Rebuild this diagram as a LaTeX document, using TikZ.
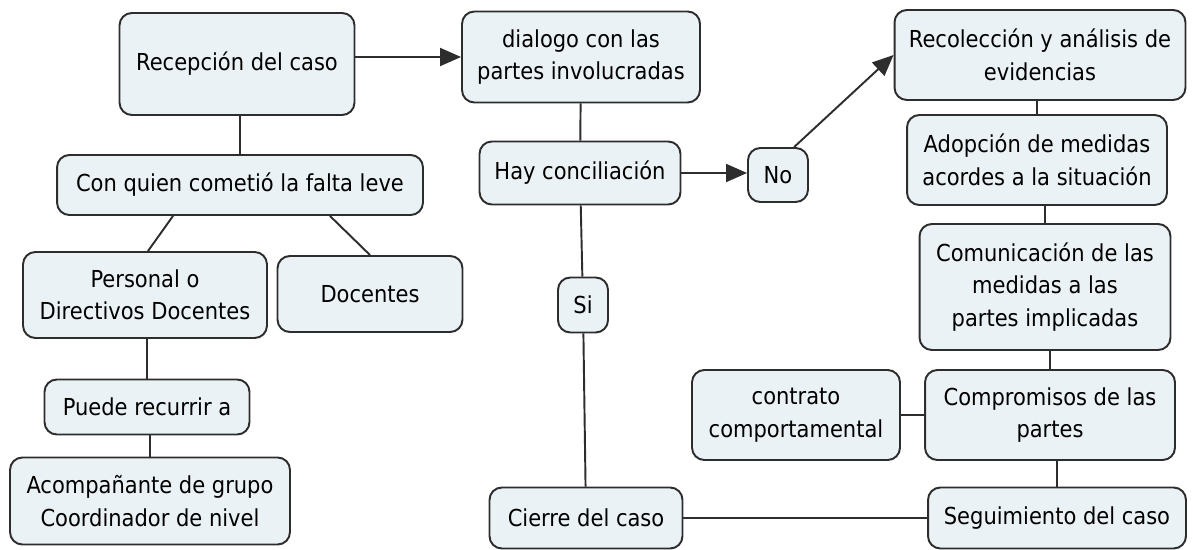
\documentclass[tikz,border=0pt]{standalone}
\usepackage{fontspec}
\setmainfont{DejaVu Sans Condensed}
\usetikzlibrary{arrows.meta}

\definecolor{boxfill}{RGB}{235,242,245}
\definecolor{boxline}{RGB}{45,45,45}

\tikzset{
  concepto/.style={draw=boxline, fill=boxfill, line width=1.1pt, rounded corners=7pt,
    align=center, inner sep=0pt, font=\fontsize{13.3}{18.5}\selectfont},
  enlace/.style={draw=boxline, line width=1.1pt},
  flecha/.style={enlace, -{Triangle[length=0.42cm,width=0.36cm]}}
}

\begin{document}
\begin{tikzpicture}[x=0.02cm, y=-0.02cm]
    \useasboundingbox (0,0) rectangle (1193,550);

    % Left branch
    \node[concepto, minimum width=4.7cm, minimum height=2.04cm] (recepcion) at (237,64) {Recepción del caso};
    \node[concepto, minimum width=7.32cm, minimum height=1.2cm] (quien) at (240,185) {Con quien cometió la falta leve};
    \node[concepto, minimum width=4.88cm, minimum height=1.72cm] (personal) at (145,295) {Personal o\\Directivos Docentes};
    \node[concepto, minimum width=3.7cm, minimum height=1.52cm] (docentes) at (370,294) {Docentes};
    \node[concepto, minimum width=4.1cm, minimum height=1.1cm] (recurrir) at (147,407) {Puede recurrir a};
    \node[concepto, minimum width=5.6cm, minimum height=1.74cm] (acompanante) at (150,501) {Acompañante de grupo\\Coordinador de nivel};

    % Middle branch
    \node[concepto, minimum width=4.76cm, minimum height=1.82cm] (dialogo) at (581,57) {dialogo con las\\partes involucradas};
    \node[concepto, minimum width=4.02cm, minimum height=1.26cm] (hay) at (580,173) {Hay conciliación};
    \node[concepto, minimum width=1.2cm, minimum height=1.08cm] (no) at (778,175) {No};
    \node[concepto, minimum width=1.0cm, minimum height=1.1cm] (si) at (583,305) {Si};
    \node[concepto, minimum width=3.86cm, minimum height=1.22cm] (cierre) at (586,518) {Cierre del caso};

    % Right branch
    \node[concepto, minimum width=5.82cm, minimum height=1.8cm] (recoleccion) at (1040,55) {Recolección y análisis de\\evidencias};
    \node[concepto, minimum width=5.2cm, minimum height=1.8cm] (adopcion) at (1037,160) {Adopción de medidas\\acordes a la situación};
    \node[concepto, minimum width=5.02cm, minimum height=2.52cm] (comunicacion) at (1045,287) {Comunicación de las\\medidas a las\\partes implicadas};
    \node[concepto, minimum width=5.0cm, minimum height=1.8cm] (compromisos) at (1050,415) {Compromisos de las\\partes};
    \node[concepto, minimum width=4.16cm, minimum height=1.8cm] (contrato) at (796,415) {contrato\\comportamental};
    \node[concepto, minimum width=5.16cm, minimum height=1.22cm] (seguimiento) at (1057,518) {Seguimiento del caso};

    % Links
    \draw[flecha] (recepcion.east |- dialogo.west) -- (dialogo.west);
    \draw[enlace] (recepcion.south -| quien.north) -- (quien.north);
    \draw[enlace] ([xshift=-1.34cm]quien.south) -- ([xshift=0.06cm]personal.north);
    \draw[enlace] ([xshift=1.8cm]quien.south) -- (docentes.north);
    \draw[enlace] (personal.south -| recurrir.north) -- (recurrir.north);
    \draw[enlace] (recurrir.south -| acompanante.north) -- (acompanante.north);

    \draw[enlace] (dialogo) -- (hay);
    \draw[flecha] (hay.east) -- (hay.east -| no.west);
    \draw[flecha] (no.60) -- (recoleccion.west);
    \draw[enlace] (hay) -- (si);
    \draw[enlace] (si) -- (cierre);
    \draw[enlace] (cierre) -- (seguimiento);

    \draw[enlace] (recoleccion.south -| adopcion.north) -- (adopcion.north);
    \draw[enlace] (adopcion.south -| comunicacion.north) -- (comunicacion.north);
    \draw[enlace] (comunicacion.south -| compromisos.north) -- (compromisos.north);
    \draw[enlace] (contrato) -- (compromisos);
    \draw[enlace] (compromisos.south -| seguimiento.north) -- (seguimiento.north);
\end{tikzpicture}
\end{document}
